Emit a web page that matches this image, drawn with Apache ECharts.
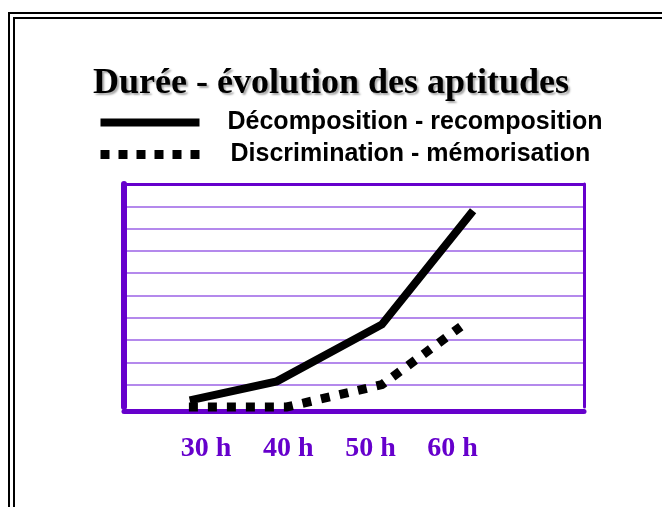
<!DOCTYPE html>
<html>
<head>
<meta charset="utf-8">
<script src="https://cdn.jsdelivr.net/npm/echarts@6/dist/echarts.min.js"></script>
<style>
  html, body { margin: 0; padding: 0; background: #fff; }
  #chart { width: 662px; height: 507px; }
</style>
</head>
<body>
<div id="chart"></div>
<script>
// values: [hours, level]
var hours = [30, 40, 50, 60];
var hourLabels = ['30 h', '40 h', '50 h', '60 h'];
var seriesNames = ['Décomposition - recomposition', 'Discrimination - mémorisation'];
var decompX = [28.0, 38.6, 51.4, 62.5];
var decompY = [0.3, 1.15, 3.7, 8.8];
var discrimX = [27.9, 39.8, 51.4, 61.0];
var discrimY = [0, 0, 1.0, 3.6];

function pairs(xs, ys) {
  var arr = [];
  for (var i = 0; i < xs.length; i++) {
    arr.push([xs[i], ys[i]]);
  }
  return arr;
}

var purple = '#6600cc';

var chart = echarts.init(document.getElementById('chart'));
chart.setOption({
  animation: false,
  backgroundColor: '#fff',
  title: {
    text: 'Durée - évolution des aptitudes',
    left: 'center',
    top: 61,
    textStyle: {
      fontFamily: 'Liberation Serif',
      fontWeight: 'bold',
      fontSize: 36,
      color: '#000',
      textShadowColor: 'rgba(0,0,0,0.35)',
      textShadowOffsetX: 2,
      textShadowOffsetY: 2,
      textShadowBlur: 2
    }
  },
  legend: {
    orient: 'vertical',
    left: 91,
    top: 105,
    itemWidth: 99,
    itemHeight: 9,
    itemGap: 7,
    lineStyle: { width: 'inherit' },
    itemStyle: { opacity: 0, borderWidth: 0 },
    textStyle: {
      fontFamily: 'Liberation Sans',
      fontWeight: 'bold',
      fontSize: 25,
      color: '#000',
      padding: [0, 0, 0, 23]
    },
    data: [
      { name: seriesNames[0] },
      { name: seriesNames[1], lineStyle: { type: [9, 9] }, textStyle: { padding: [0, 0, 0, 26] } }
    ]
  },
  graphic: [
    { type: 'rect', shape: { x: 9, y: 13, width: 700, height: 600 }, style: { fill: null, stroke: '#000', lineWidth: 2 } },
    { type: 'rect', shape: { x: 14, y: 18, width: 700, height: 600 }, style: { fill: null, stroke: '#000', lineWidth: 2 } }
  ],
  grid: {
    left: 124,
    right: 78,
    top: 184,
    bottom: 100
  },
  xAxis: [
    {
      type: 'value',
      min: 20,
      max: 76,
      interval: 10,
      offset: 4,
      axisLine: { onZero: false, lineStyle: { color: purple, width: 5 } },
      axisTick: { show: false },
      splitLine: { show: false },
      axisLabel: {
        margin: 24,
        color: purple,
        fontFamily: 'Liberation Serif',
        fontWeight: 'bold',
        fontSize: 28,
        formatter: function (v) {
          var i = hours.indexOf(v);
          return i >= 0 ? hourLabels[i] : '';
        }
      }
    },
    {
      type: 'value',
      position: 'top',
      min: 20,
      max: 76,
      axisLine: { show: true, onZero: false, lineStyle: { color: purple, width: 3 } },
      axisTick: { show: false },
      axisLabel: { show: false },
      splitLine: { show: false }
    }
  ],
  yAxis: [
    {
      type: 'value',
      min: 0,
      max: 10,
      interval: 1,
      axisLine: { show: true, onZero: false, lineStyle: { color: purple, width: 6 } },
      axisTick: { show: false },
      axisLabel: { show: false },
      splitLine: { showMinLine: false, showMaxLine: false, lineStyle: { color: '#9b62e6', width: 1.5 } }
    },
    {
      type: 'value',
      position: 'right',
      min: 0,
      max: 10,
      axisLine: { show: true, onZero: false, lineStyle: { color: purple, width: 3 } },
      axisTick: { show: false },
      axisLabel: { show: false },
      splitLine: { show: false }
    }
  ],
  series: [
    {
      name: seriesNames[0],
      type: 'line',
      symbol: 'none',
      clip: false,
      data: pairs(decompX, decompY),
      lineStyle: { color: '#000', width: 8, cap: 'butt', join: 'miter' },
      itemStyle: { color: '#000' }
    },
    {
      name: seriesNames[1],
      type: 'line',
      symbol: 'none',
      clip: false,
      data: pairs(discrimX, discrimY),
      lineStyle: { color: '#000', width: 9, type: [9, 10], cap: 'butt', join: 'miter' },
      itemStyle: { color: '#000' }
    }
  ]
});
</script>
</body>
</html>
